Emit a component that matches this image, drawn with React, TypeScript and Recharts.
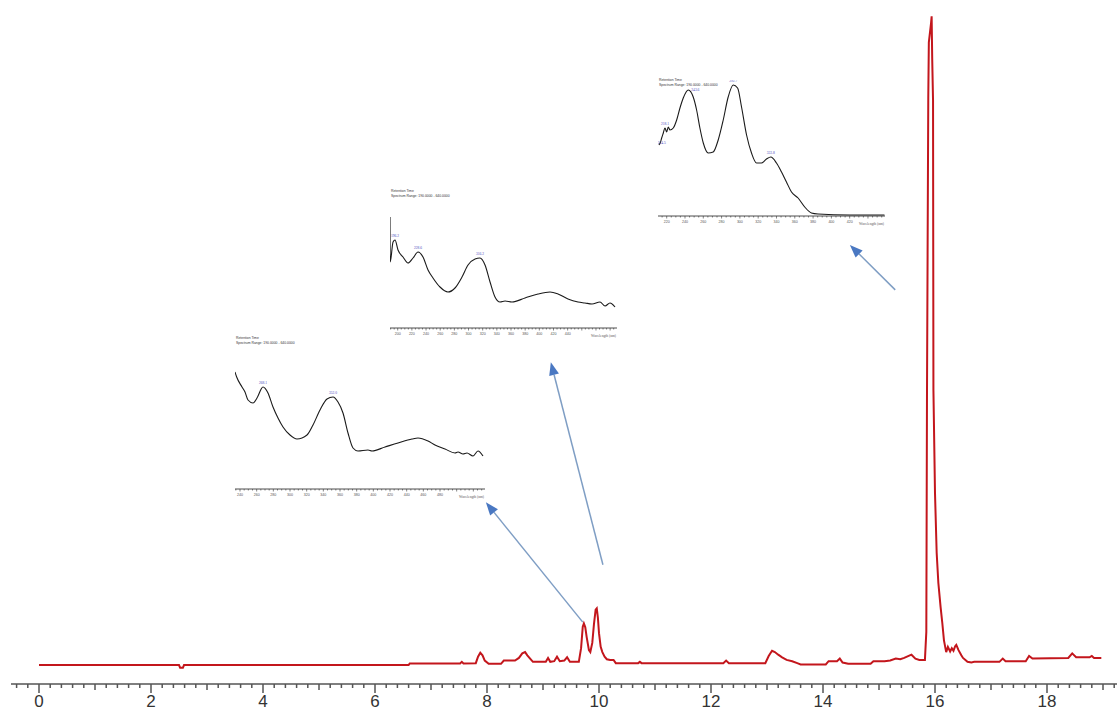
import React from 'react';
import { LineChart, Line, XAxis, YAxis, ReferenceLine, ReferenceDot } from 'recharts';

// chromatogram (min, mAU)
const retentionTime = [
  0, 2.5, 2.52, 2.57, 2.59, 6.6, 6.62, 7.52, 7.55, 7.58, 7.8, 7.84, 7.88, 7.92, 7.96, 8.03, 8.25, 8.3, 8.5,
  8.57, 8.63, 8.68, 8.72, 8.77, 8.82, 9.05, 9.09, 9.13, 9.2, 9.25, 9.3, 9.38, 9.43, 9.48, 9.64, 9.68, 9.71,
  9.73, 9.755, 9.78, 9.82, 9.845, 9.88, 9.91, 9.94, 9.96, 9.98, 10.0, 10.03, 10.06, 10.1, 10.14, 10.2, 10.26,
  10.3, 10.7, 10.73, 10.76, 12.22, 12.27, 12.32, 12.97, 13.03, 13.09, 13.14, 13.2, 13.27, 13.35, 13.45, 13.54,
  13.6, 14.05, 14.1, 14.25, 14.3, 14.35, 14.45, 14.85, 14.9, 15.1, 15.2, 15.3, 15.38, 15.45, 15.5, 15.58,
  15.65, 15.72, 15.82, 15.845, 15.857, 15.88, 15.89, 15.93, 15.94, 15.95, 15.965, 15.972, 16.0, 16.03, 16.06,
  16.1, 16.13, 16.16, 16.2, 16.23, 16.27, 16.3, 16.33, 16.36, 16.38, 16.42, 16.47, 16.5, 16.58, 16.65, 16.7,
  17.15, 17.21, 17.26, 17.62, 17.68, 17.74, 18.38, 18.45, 18.52, 18.76, 18.8, 18.84, 18.97,
];
const signal = [
  -1, -1, -5, -5, -1, -1, 1.5, 1.5, 4, 1.5, 2, 12, 18, 14, 6, 1, 1, 6, 6,
  10, 17, 19, 14, 9, 4, 4, 10, 4, 5, 12, 5, 6, 11, 4, 4, 25, 58,
  63, 57, 42, 22, 19, 33, 62, 84, 86, 72, 48, 27, 19, 12, 8, 7, 7,
  2, 2, 4, 2, 2, 6, 2, 2, 13, 21, 19, 15, 11, 7, 5, 2,
  0, 0, 5, 5, 9, 3, 1, 1, 5, 5, 6, 9, 8, 10, 12, 15,
  9, 7, 7, 50, 416, 871, 955, 985, 995, 930, 866, 421, 263, 171, 125,
  88, 64, 37, 19, 27, 20, 25, 21, 28, 30, 22, 14, 10, 4, 3, 4,
  4, 9, 5, 5, 13, 9, 10, 17, 11, 11, 13, 10, 10,
];
const timeLabels = [0, 2, 4, 6, 8, 10, 12, 14, 16, 18];
const timeMin = -0.5;
const timeMax = 19.25;
const minorStep = 0.2;

// arrows from peaks to their spectra (min, mAU)
const arrowStartT = [9.71, 10.07, 15.29];
const arrowStartV = [65, 153, 575];
const arrowEndT = [7.98, 9.14, 14.48];
const arrowEndV = [249, 464, 644];

// spectrum 1 (nm, AU)
const spec1Wl = [
  234, 236, 242.4, 246, 249.6, 255.6, 260.4, 267.6, 273.6, 279.6, 285.6, 291.6, 300, 308.4, 320.4, 327.6, 336,
  344.4, 351.6, 357.6, 363.6, 369.6, 375.6, 381.6, 393.6, 398.4, 414, 429.6, 446.4, 453.6, 465.6, 474, 486,
  498, 501.6, 507.6, 512.4, 519.6, 525.6, 531.6,
];
const spec1Ab = [
  1.17, 1.12, 1.02, 0.97, 0.89, 0.86, 0.91, 1.02, 0.96, 0.82, 0.71, 0.62, 0.54, 0.5, 0.54, 0.64, 0.79,
  0.9, 0.92, 0.87, 0.76, 0.56, 0.41, 0.38, 0.39, 0.38, 0.42, 0.46, 0.5, 0.51, 0.48, 0.44, 0.4,
  0.36, 0.37, 0.35, 0.36, 0.33, 0.38, 0.33,
];
const spec1Labels = [240, 260, 280, 300, 320, 340, 360, 380, 400, 420, 440, 460, 480];
const spec1PeakWl = [267.6, 351.6];
const spec1PeakText = ['268.1', '352.0'];

// spectrum 2
const spec2Wl = [
  189.1, 189.4, 193.4, 196.2, 200.4, 207.5, 214.5, 221.6, 228.7, 235.7, 242.8, 249.8, 259.7, 271, 280.9,
  290.8, 299.3, 309.2, 316.2, 323.3, 330.4, 337.4, 344.5, 351.6, 361.4, 379.8, 398.2, 415.1, 426.4, 440.5,
  454.6, 464.5, 474.4, 485.7, 492.8, 499.8, 506.9,
];
const spec2Ab = [
  1.11, 0.66, 0.86, 0.88, 0.78, 0.71, 0.65, 0.7, 0.76, 0.71, 0.58, 0.5, 0.41, 0.36, 0.4,
  0.51, 0.63, 0.69, 0.7, 0.63, 0.46, 0.31, 0.26, 0.27, 0.26, 0.3, 0.34, 0.36, 0.34, 0.29,
  0.26, 0.25, 0.24, 0.26, 0.22, 0.25, 0.21,
];
const spec2Labels = [200, 220, 240, 260, 280, 300, 320, 340, 360, 380, 400, 420, 440];
const spec2PeakWl = [196.2, 228.7, 316.2];
const spec2PeakText = ['196.2', '228.6', '316.2'];

// spectrum 3
const spec3Wl = [
  211.5, 213.3, 214.5, 216.3, 218.1, 220, 221.7, 223.6, 227.2, 230.9, 234.5, 238.1, 243.6, 249, 252.7, 256.3,
  260, 265.4, 270.8, 276.3, 281.8, 287.2, 292.7, 297.5, 301.8, 307.3, 312.7, 318.2, 323.6, 329.1, 333.8, 340,
  345.5, 350.9, 356.4, 363.6, 370.9, 378.2, 385.4, 420, 458,
];
const spec3Ab = [
  0.71, 0.74, 0.78, 0.83, 0.88, 0.84, 0.89, 0.86, 0.88, 0.96, 1.08, 1.18, 1.26, 1.19, 1.06, 0.88,
  0.73, 0.63, 0.64, 0.76, 0.96, 1.19, 1.31, 1.28, 1.09, 0.81, 0.63, 0.53, 0.53, 0.57, 0.59, 0.53,
  0.44, 0.34, 0.24, 0.18, 0.09, 0.03, 0.02, 0.01, 0.01,
];
const spec3Labels = [220, 240, 260, 280, 300, 320, 340, 360, 380, 400, 420];
const spec3PeakWl = [214.5, 218.1, 243.6, 292.7, 333.8];
const spec3PeakText = ['214.5', '218.1', '243.6', '292.7', '333.8'];
const spec3PeakPos = ['bottom', 'top', 'right', 'top', 'top'];

const chromData = retentionTime.map((t, i) => ({ t, v: signal[i] }));
const minorTicks: number[] = [];
for (let k = Math.ceil(timeMin / minorStep); k * minorStep <= timeMax; k++) {
  minorTicks.push(Math.round(k * minorStep * 10) / 10);
}

const FONT = 'Liberation Sans, Arial, sans-serif';

const TimeTick = ({ x, y, payload }: any) => {
  const v = payload.value;
  const r = Math.round(v);
  const isInt = Math.abs(v - r) < 1e-6;
  const labelled = isInt && timeLabels.includes(r);
  const len = labelled ? 9 : isInt ? 6 : 4;
  return (
    <g>
      <line x1={x} y1={y} x2={x} y2={y + len} stroke="#555" strokeWidth={1.5} />
      {labelled && (
        <text x={x} y={y + 23} textAnchor="middle" fontSize={17} fill="#333" fontFamily={FONT}>
          {r}
        </text>
      )}
    </g>
  );
};

const ArrowShape = (props: any) => {
  const { x1, y1, x2, y2 } = props;
  const a = Math.atan2(y2 - y1, x2 - x1);
  const len = 13;
  const half = 5;
  const bx = x2 - len * Math.cos(a);
  const by = y2 - len * Math.sin(a);
  const pts = [
    `${x2},${y2}`,
    `${bx + half * Math.sin(a)},${by - half * Math.cos(a)}`,
    `${bx - half * Math.sin(a)},${by + half * Math.cos(a)}`,
  ].join(' ');
  return (
    <g>
      <line x1={x1} y1={y1} x2={bx} y2={by} stroke="#7f9ec4" strokeWidth={1.5} />
      <polygon points={pts} fill="#4a78c2" />
    </g>
  );
};

type SpecProps = {
  left: number;
  top: number;
  width: number;
  plotHeight: number;
  xMin: number;
  xMax: number;
  yMax: number;
  wl: number[];
  ab: number[];
  labels: number[];
  peakWl: number[];
  peakText: string[];
  peakPos?: string[];
  headerTop: number;
};

const Spectrum = ({ left, top, width, plotHeight, xMin, xMax, yMax, wl, ab, labels, peakWl, peakText, peakPos, headerTop }: SpecProps) => {
  const data = wl.map((w, i) => ({ w, a: ab[i] }));
  const ticks: number[] = [];
  for (let w = Math.ceil(xMin / 5) * 5; w <= xMax; w += 5) ticks.push(w);
  const axisH = 10;
  const renderTick = ({ x, y, payload }: any) => {
    const v = payload.value;
    const major = v % 20 === 0;
    return (
      <g>
        <line x1={x} y1={y} x2={x} y2={y + (major ? 2.5 : 1.5)} stroke="#333" strokeWidth={0.6} />
        {labels.includes(v) && (
          <text x={x} y={y + 6.5} textAnchor="middle" fontSize={3.6} fill="#555" fontFamily={FONT}>
            {v}
          </text>
        )}
      </g>
    );
  };
  return (
    <>
      <svg style={{ position: 'absolute', left, top: headerTop }} width={110} height={14}>
        <text x={1} y={5.5} fontSize={3.4} fill="#333" fontFamily={FONT}>Retention Time</text>
        <text x={1} y={10.5} fontSize={3.4} fill="#333" fontFamily={FONT}>Spectrum Range: 190.0000 - 640.0000</text>
      </svg>
      <div style={{ position: 'absolute', left, top, width, height: plotHeight + axisH }}>
        <LineChart width={width} height={plotHeight + axisH} data={data} margin={{ top: 0, right: 0, bottom: 0, left: 0 }}>
          <XAxis
            dataKey="w"
            type="number"
            domain={[xMin, xMax]}
            ticks={ticks}
            interval={0}
            height={axisH}
            tickSize={0}
            tickMargin={0}
            tickLine={false}
            allowDataOverflow
            axisLine={{ stroke: '#222', strokeWidth: 0.8 }}
            tick={renderTick}
            label={{ value: 'Wavelength (nm)', position: 'insideBottomRight', offset: 1, fontSize: 3.6, fill: '#555' }}
          />
          <YAxis hide domain={[0, yMax]} allowDataOverflow />
          <Line dataKey="a" type="monotone" stroke="#1a1a1a" strokeWidth={1.1} dot={false} isAnimationActive={false} />
          {peakWl.map((p, i) => (
            <ReferenceDot
              key={p}
              x={p}
              y={ab[wl.indexOf(p)]}
              r={0}
              fill="none"
              stroke="none"
              ifOverflow="visible"
              label={{ value: peakText[i], position: (peakPos ? peakPos[i] : 'top') as any, offset: 3, fontSize: 3.6, fill: '#4b4bbd' }}
            />
          ))}
        </LineChart>
      </div>
    </>
  );
};

export default function App() {
  return (
    <div style={{ position: 'absolute', left: 0, top: 0, width: 1118, height: 711, background: '#fff', overflow: 'hidden' }}>
      <LineChart width={1118} height={711} data={chromData} margin={{ top: 13, right: 1, bottom: 0, left: 11 }}>
        <XAxis
          dataKey="t"
          type="number"
          domain={[timeMin, timeMax]}
          ticks={minorTicks}
          interval={0}
          height={27}
          tickSize={0}
          tickMargin={0}
          tickLine={false}
          allowDataOverflow
          axisLine={{ stroke: '#555', strokeWidth: 1.5 }}
          tick={TimeTick}
        />
        <YAxis hide domain={[-30, 1000]} allowDataOverflow />
        <Line dataKey="v" type="linear" stroke="#c3161c" strokeWidth={2} dot={false} isAnimationActive={false} />
        {arrowStartT.map((t, i) => (
          <ReferenceLine
            key={t}
            segment={[
              { x: t, y: arrowStartV[i] },
              { x: arrowEndT[i], y: arrowEndV[i] },
            ]}
            ifOverflow="visible"
            shape={ArrowShape}
          />
        ))}
      </LineChart>
      <Spectrum left={235} top={369} width={250} plotHeight={120} xMin={234} xMax={534} yMax={1.2}
        wl={spec1Wl} ab={spec1Ab} labels={spec1Labels} peakWl={spec1PeakWl} peakText={spec1PeakText} headerTop={333} />
      <Spectrum left={390} top={210} width={227} plotHeight={118} xMin={189.1} xMax={509.7} yMax={1.18}
        wl={spec2Wl} ab={spec2Ab} labels={spec2Labels} peakWl={spec2PeakWl} peakText={spec2PeakText} headerTop={186} />
      <Spectrum left={658} top={80} width={227} plotHeight={136} xMin={210.5} xMax={458.6} yMax={1.36}
        wl={spec3Wl} ab={spec3Ab} labels={spec3Labels} peakWl={spec3PeakWl} peakText={spec3PeakText}
        peakPos={spec3PeakPos} headerTop={75} />
    </div>
  );
}
